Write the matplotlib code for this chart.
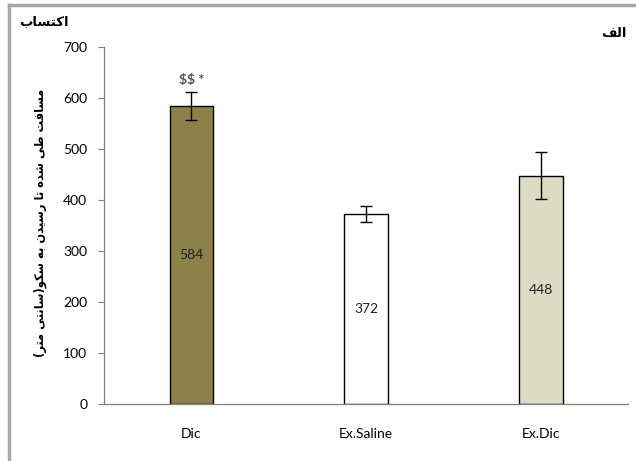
import matplotlib
matplotlib.use("Agg")
import matplotlib.pyplot as plt
from matplotlib.lines import Line2D

# ---- data -------------------------------------------------------------
groups = ["Dic", "Ex.Saline", "Ex.Dic"]
means = [584, 372, 448]
errors = [28, 16, 47]
bar_colors = ["#8c8249", "#ffffff", "#dcdbc3"]
y_ticks = [0, 100, 200, 300, 400, 500, 600, 700]
marker_text = "$$ *"
title_left = "اکتساب"
title_right = "الف"
y_label = "مسافت طی شده تا رسیدن به سکو(سانتی متر)"

# ---- minimal Arabic/Persian shaping (contextual forms + RTL order) -----
FORMS = {  # isolated, final, initial, medial
    "ا": ("\uFE8D", "\uFE8E", None, None),
    "ب": ("\uFE8F", "\uFE90", "\uFE91", "\uFE92"),
    "ت": ("\uFE95", "\uFE96", "\uFE97", "\uFE98"),
    "د": ("\uFEA9", "\uFEAA", None, None),
    "ر": ("\uFEAD", "\uFEAE", None, None),
    "س": ("\uFEB1", "\uFEB2", "\uFEB3", "\uFEB4"),
    "ش": ("\uFEB5", "\uFEB6", "\uFEB7", "\uFEB8"),
    "ط": ("\uFEC1", "\uFEC2", "\uFEC3", "\uFEC4"),
    "ف": ("\uFED1", "\uFED2", "\uFED3", "\uFED4"),
    "ل": ("\uFEDD", "\uFEDE", "\uFEDF", "\uFEE0"),
    "م": ("\uFEE1", "\uFEE2", "\uFEE3", "\uFEE4"),
    "ن": ("\uFEE5", "\uFEE6", "\uFEE7", "\uFEE8"),
    "ه": ("\uFEE9", "\uFEEA", "\uFEEB", "\uFEEC"),
    "و": ("\uFEED", "\uFEEE", None, None),
    "ی": ("\uFBFC", "\uFBFD", "\uFBFE", "\uFBFF"),
    "ک": ("\uFB8E", "\uFB8F", "\uFB90", "\uFB91"),
}


def shape(text):
    def dual(c):
        return c in FORMS and FORMS[c][2] is not None

    out = []
    for i, c in enumerate(text):
        if c not in FORMS:
            out.append(c)
            continue
        prev = text[i - 1] if i > 0 else ""
        nxt = text[i + 1] if i + 1 < len(text) else ""
        join_prev = dual(prev)
        join_next = dual(c) and nxt in FORMS
        iso, fin, ini, med = FORMS[c]
        if join_prev and join_next:
            out.append(med)
        elif join_prev:
            out.append(fin)
        elif join_next:
            out.append(ini)
        else:
            out.append(iso)
    visual = "".join(reversed(out))
    return visual.translate(str.maketrans("()", ")("))


# ---- figure -----------------------------------------------------------
plt.rcParams["font.family"] = ["Lato", "DejaVu Sans"]
plt.rcParams["text.parse_math"] = False
W, H = 636, 461
fig = plt.figure(figsize=(W / 100, H / 100), dpi=100)
fig.patch.set_facecolor("white")

# outer frame
fig.add_artist(Line2D([8.5 / W, 8.5 / W], [0, 1 - 5 / H], transform=fig.transFigure,
                      color="#a6a6a6", lw=2.5))
fig.add_artist(Line2D([8.5 / W, 1], [1 - 5 / H, 1 - 5 / H], transform=fig.transFigure,
                      color="#a6a6a6", lw=2.5))

ax = fig.add_axes([104 / W, 1 - 404 / H, (628.5 - 104) / W, (404 - 47) / H])
x = range(len(groups))
ax.bar(x, means, width=0.25, color=bar_colors, edgecolor="black", linewidth=1.0,
       zorder=2)
ax.errorbar(x, means, yerr=errors, fmt="none", ecolor="black", elinewidth=1.0,
            capsize=4, capthick=1.0, zorder=3)

for xi, m in zip(x, means):
    ax.text(xi, m / 2, str(m), ha="center", va="center", fontsize=10,
            color="#222222", zorder=4)

ax.text(0, means[0] + errors[0] + 12, marker_text, ha="center", va="bottom",
        fontsize=10, fontweight="bold", color="#555555")

ax.set_xlim(-0.5, len(groups) - 0.5)
ax.set_ylim(0, 700)
ax.set_yticks(y_ticks)
ax.set_xticks(list(x))
ax.set_xticklabels(groups)
ax.tick_params(axis="y", direction="out", length=4, width=0.8, color="#808080",
               labelsize=10, pad=8)
ax.tick_params(axis="x", length=0, labelsize=10, pad=17)
for side in ("top", "right"):
    ax.spines[side].set_visible(False)
ax.spines["left"].set_color("#808080")
ax.spines["bottom"].set_color("#808080")
ax.spines["left"].set_linewidth(0.9)
ax.spines["bottom"].set_linewidth(0.9)

arabic_font = ["DejaVu Sans"]
fig.text(44 / W, 1 - 22 / H, shape(title_left), ha="center", va="center",
         fontsize=9.5, fontweight="bold", family=arabic_font)
fig.text(614 / W, 1 - 33 / H, shape(title_right), ha="center", va="center",
         fontsize=9.5, fontweight="bold", family=arabic_font)
fig.text(40 / W, 1 - 223 / H, shape(y_label), ha="center", va="center",
         rotation=90, fontsize=8.3, fontweight="bold", family=arabic_font)

fig.savefig("out.png", dpi=100)
